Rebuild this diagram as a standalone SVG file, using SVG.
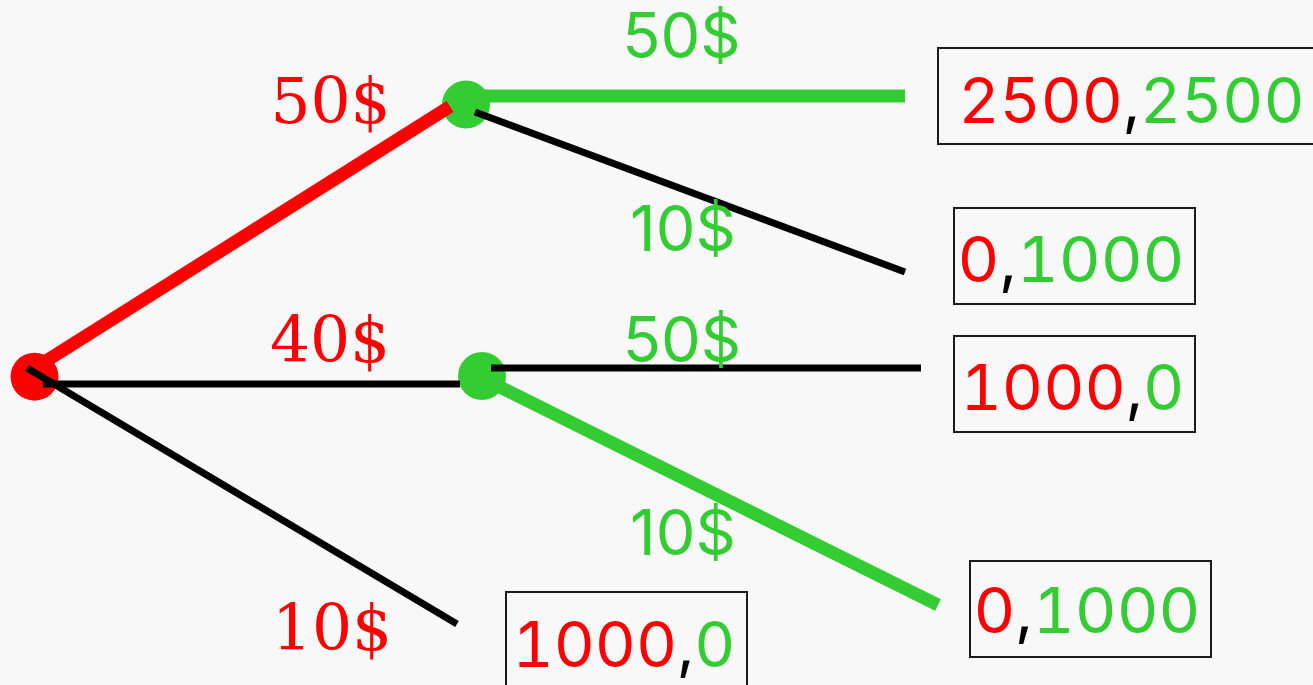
<svg xmlns="http://www.w3.org/2000/svg" width="1313" height="685" viewBox="0 0 1313 685">
<style>
.bg{fill:#f8f8f8}
.thin{stroke:#000;stroke-width:7;fill:none}
.thick-r{stroke:#ff0000;stroke-width:13;fill:none}
.thick-g{stroke:#33cc33;stroke-width:13;fill:none}
.box{fill:none;stroke:#1a1a1a;stroke-width:2}
.lr{font-family:"DejaVu Serif",serif;font-size:63px;fill:#ff0000;text-anchor:middle}
.lg{font-family:Inter,"Noto Sans",sans-serif;font-size:63px;fill:#33cc33;text-anchor:middle}
.pay{font-family:Inter,"Noto Sans",sans-serif;font-size:63px;text-anchor:middle;font-variant-numeric:tabular-nums}
.r{fill:#ff0000}.g{fill:#33cc33}.k{fill:#000}
</style>
<rect class="bg" x="0" y="0" width="1313" height="685"/>
<g id="root"><circle cx="34.5" cy="376.7" r="24" fill="#ff0000"/></g>
<g id="p2a"><circle cx="466" cy="104.5" r="24" fill="#33cc33"/></g>
<g id="p2b"><circle cx="482" cy="376" r="24" fill="#33cc33"/></g>
<g id="leaf1"><rect class="box" x="938" y="48" width="390" height="96"/><text class="pay" x="1131.5" y="123" textLength="346" lengthAdjust="spacingAndGlyphs"><tspan class="r">2500</tspan><tspan class="k">,</tspan><tspan class="g">2500</tspan></text></g>
<g id="leaf2"><rect class="box" x="954" y="208" width="241" height="96"/><text class="pay" x="1071" y="282" textLength="227" lengthAdjust="spacingAndGlyphs"><tspan class="r">0</tspan><tspan class="k">,</tspan><tspan class="g">1000</tspan></text></g>
<g id="leaf3"><rect class="box" x="954" y="336" width="241" height="96"/><text class="pay" x="1072.5" y="410" textLength="224" lengthAdjust="spacingAndGlyphs"><tspan class="r">1000</tspan><tspan class="k">,</tspan><tspan class="g">0</tspan></text></g>
<g id="leaf4"><rect class="box" x="970" y="561" width="241" height="96"/><text class="pay" x="1087" y="633" textLength="227" lengthAdjust="spacingAndGlyphs"><tspan class="r">0</tspan><tspan class="k">,</tspan><tspan class="g">1000</tspan></text></g>
<g id="leaf5"><rect class="box" x="506" y="592" width="241" height="96"/><text class="pay" x="624" y="667" textLength="223" lengthAdjust="spacingAndGlyphs"><tspan class="r">1000</tspan><tspan class="k">,</tspan><tspan class="g">0</tspan></text></g>
<g id="connectors">
<line class="thick-r" x1="35" y1="368" x2="450" y2="106.5"/>
<line class="thin" x1="27" y1="368" x2="457" y2="624"/>
<line class="thin" x1="43" y1="384" x2="460" y2="384"/>
<line class="thick-g" x1="466" y1="96" x2="905" y2="96"/>
<line class="thin" x1="475" y1="112" x2="905" y2="272"/>
<line class="thin" x1="491" y1="368" x2="921" y2="368"/>
<line class="thick-g" x1="482" y1="378" x2="938" y2="605"/>
<text class="lr" x="330.5" y="122.5">50$</text>
<text class="lr" x="330" y="362">40$</text>
<text class="lr" x="332" y="650">10$</text>
<text class="lg" x="681.5" y="58">50$</text>
<text class="lg" x="683" y="251">10$</text>
<text class="lg" x="682" y="362">50$</text>
<text class="lg" x="683" y="555">10$</text>
</g>
</svg>
